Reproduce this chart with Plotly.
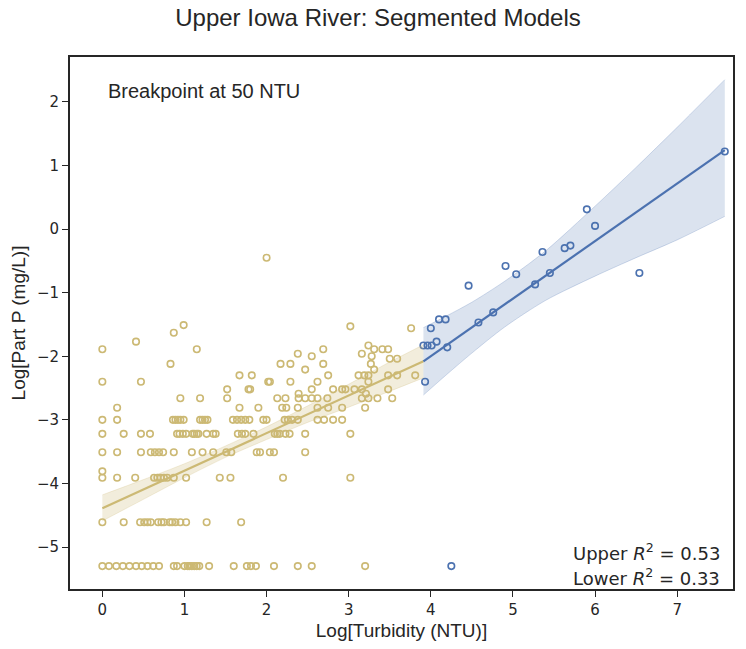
import plotly.graph_objects as go

# ---------------- data ----------------
# Lower segment (turbidity < 50 NTU): points grouped by Log[Part P] level
lower_levels = [-0.45, -1.51, -1.53, -1.56, -1.63, -1.77, -1.83, -1.89, -1.96, -2.00,
                -2.04, -2.12, -2.21, -2.30, -2.40, -2.52, -2.59, -2.66, -2.81, -3.00,
                -3.22, -3.51, -3.81, -3.91, -4.61, -5.30]
lower_x_by_level = [
    [2.00],
    [0.99],
    [3.02],
    [3.76],
    [0.87],
    [0.41],
    [3.24],
    [0.00, 1.15, 2.69, 3.31, 3.41, 3.48],
    [2.38, 3.16],
    [2.55, 3.28],
    [3.50, 3.59],
    [0.83, 2.17, 2.29, 2.69, 3.27],
    [2.47, 3.31],
    [1.67, 1.82, 2.75, 3.12, 3.19, 3.24, 3.48, 3.59, 3.81],
    [0.00, 0.47, 2.02, 2.04, 2.29, 2.62, 3.24],
    [1.52, 1.78, 1.80, 2.55, 2.81, 2.92, 2.96, 3.07, 3.16, 3.48],
    [2.39, 3.21],
    [0.95, 1.19, 1.52, 2.13, 2.23, 2.39, 2.47, 2.55, 2.62, 2.74, 3.16, 3.24, 3.35, 3.53],
    [0.18, 1.67, 1.90, 2.19, 2.24, 2.38, 2.62, 2.75, 2.92, 3.20],
    [0.00, 0.18, 0.86, 0.89, 0.92, 0.95, 0.99, 1.19, 1.22, 1.25, 1.28, 1.59, 1.64, 1.69,
     1.74, 1.79, 1.96, 2.00, 2.22, 2.26, 2.31, 2.38, 2.62, 2.70, 2.81, 2.92],
    [0.00, 0.26, 0.47, 0.58, 0.91, 0.94, 0.98, 1.02, 1.10, 1.12, 1.15, 1.17, 1.27, 1.35,
     1.38, 1.65, 1.70, 1.74, 1.84, 2.10, 2.13, 2.16, 2.23, 2.28, 2.47, 3.02],
    [0.00, 0.18, 0.47, 0.59, 0.64, 0.69, 0.74, 0.87, 1.09, 1.22, 1.35, 1.51, 1.57, 1.88,
     1.92, 2.04, 2.09, 2.47],
    [0.00],
    [0.00, 0.18, 0.40, 0.63, 0.67, 0.71, 0.75, 0.79, 0.87, 1.02, 1.43, 1.56, 2.20, 3.02],
    [0.00, 0.26, 0.46, 0.51, 0.55, 0.59, 0.68, 0.72, 0.75, 0.82, 0.85, 0.89, 0.95, 1.02,
     1.27, 1.69],
    [0.00, 0.08, 0.17, 0.25, 0.33, 0.41, 0.48, 0.55, 0.62, 0.69, 0.87, 0.91, 1.00, 1.04,
     1.06, 1.09, 1.12, 1.15, 1.18, 1.30, 1.60, 1.76, 1.81, 1.87, 2.09, 2.38, 2.55, 3.20],
]

# Upper segment (turbidity >= 50 NTU)
upper_x = [3.91, 3.96, 4.01, 4.07, 4.00, 4.10, 4.18, 4.20, 3.93, 4.25, 4.46, 4.58,
           4.76, 4.91, 5.04, 5.27, 5.36, 5.45, 5.63, 5.70, 5.90, 6.00, 6.54, 7.58]
upper_y = [-1.83, -1.83, -1.83, -1.77, -1.56, -1.42, -1.42, -1.86, -2.40, -5.30, -0.89, -1.47,
           -1.31, -0.58, -0.71, -0.87, -0.36, -0.69, -0.30, -0.26, 0.31, 0.05, -0.69, 1.22]

# Fitted segments (end points)
lower_fit_x = [0.0, 3.91]
lower_fit_y = [-4.39, -2.08]
upper_fit_x = [3.91, 7.58]
upper_fit_y = [-2.08, 1.24]

# Confidence bands (edges)
lower_band_x = [0.0, 0.5, 1.0, 1.5, 2.0, 2.5, 3.0, 3.5, 3.91]
lower_band_hi = [-4.18, -3.94, -3.69, -3.41, -3.11, -2.78, -2.44, -2.09, -1.82]
lower_band_lo = [-4.59, -4.25, -3.91, -3.59, -3.31, -3.04, -2.80, -2.55, -2.34]
upper_band_x = [3.91, 4.2, 4.5, 4.9, 5.4, 6.0, 6.5, 7.0, 7.58]
upper_band_hi = [-1.55, -1.36, -1.15, -0.82, -0.34, 0.36, 0.97, 1.60, 2.35]
upper_band_lo = [-2.61, -2.28, -1.95, -1.54, -1.12, -0.74, -0.45, -0.17, 0.20]

x_ticks = [0, 1, 2, 3, 4, 5, 6, 7]
y_ticks = [-5, -4, -3, -2, -1, 0, 1, 2]

title_text = "Upper Iowa River: Segmented Models"
x_label = "Log[Turbidity (NTU)]"
y_label = "Log[Part P (mg/L)]"
note_text = "Breakpoint at 50 NTU"
r2_upper = "0.53"
r2_lower = "0.33"

# ---------------- styling ----------------
GOLD = "#CCB974"
BLUE = "#4C72B0"
GOLD_FILL = "rgba(204,185,116,0.25)"
BLUE_FILL = "rgba(76,114,176,0.20)"
INK = "#262626"
SANS = "Liberation Sans, Arial, sans-serif"
DEJAVU = "DejaVu Sans, sans-serif"

lower_x = [x for xs in lower_x_by_level for x in xs]
lower_y = [lvl for lvl, xs in zip(lower_levels, lower_x_by_level) for _ in xs]

fig = go.Figure()


def band(xs, hi, lo, fill, edge):
    fig.add_trace(go.Scatter(
        x=xs, y=lo, mode="lines",
        line=dict(color=edge, width=0.8, shape="spline", smoothing=0.8),
        hoverinfo="skip", showlegend=False))
    fig.add_trace(go.Scatter(
        x=xs, y=hi, mode="lines", fill="tonexty", fillcolor=fill,
        line=dict(color=edge, width=0.8, shape="spline", smoothing=0.8),
        hoverinfo="skip", showlegend=False))


fig.add_trace(go.Scatter(x=lower_x, y=lower_y, mode="markers",
                         marker=dict(symbol="circle-open", size=6.5, color=GOLD,
                                     line=dict(width=1.6, color=GOLD)),
                         showlegend=False))
fig.add_trace(go.Scatter(x=upper_x, y=upper_y, mode="markers",
                         marker=dict(symbol="circle-open", size=6.5, color=BLUE,
                                     line=dict(width=1.6, color=BLUE)),
                         showlegend=False))

band(lower_band_x, lower_band_hi, lower_band_lo, GOLD_FILL, "rgba(204,185,116,0.3)")
band(upper_band_x, upper_band_hi, upper_band_lo, BLUE_FILL, "rgba(76,114,176,0.3)")

fig.add_trace(go.Scatter(x=lower_fit_x, y=lower_fit_y, mode="lines",
                         line=dict(color=GOLD, width=2.2), showlegend=False))
fig.add_trace(go.Scatter(x=upper_fit_x, y=upper_fit_y, mode="lines",
                         line=dict(color=BLUE, width=2.2), showlegend=False))

axis_common = dict(showgrid=False, zeroline=False, showline=True, mirror=True,
                   linecolor=INK, linewidth=1.7, ticks="outside", ticklen=6,
                   tickwidth=1.3, tickcolor=INK,
                   tickfont=dict(family=DEJAVU, size=15, color=INK))

fig.update_layout(
    width=746, height=649,
    margin=dict(l=70, r=11, t=57, b=59),
    plot_bgcolor="white", paper_bgcolor="white",
    title=dict(text=title_text, x=378 / 746, xref="container", xanchor="center",
               y=1 - 18 / 649, yref="container", yanchor="middle",
               font=dict(family=SANS, size=24, color=INK)),
    xaxis=dict(range=[-0.394, 7.68], tickvals=x_ticks,
               title=dict(text=x_label, font=dict(family=SANS, size=19, color=INK), standoff=6),
               **axis_common),
    yaxis=dict(range=[-5.66, 2.706], tickvals=y_ticks,
               title=dict(text=y_label, font=dict(family=SANS, size=19, color=INK), standoff=6),
               **axis_common),
    annotations=[
        dict(text=note_text, xref="paper", yref="paper", x=0.054, y=0.936,
             xanchor="left", yanchor="middle", showarrow=False,
             font=dict(family=SANS, size=20, color=INK)),
        dict(text="Upper <i>R</i><sup>2</sup> = " + r2_upper, xref="paper", yref="paper",
             x=0.984, y=0.069, xanchor="right", yanchor="middle", showarrow=False,
             font=dict(family=DEJAVU, size=18, color=INK)),
        dict(text="Lower <i>R</i><sup>2</sup> = " + r2_lower, xref="paper", yref="paper",
             x=0.984, y=0.022, xanchor="right", yanchor="middle", showarrow=False,
             font=dict(family=DEJAVU, size=18, color=INK)),
    ],
)

fig.write_html("out.html", config={"displayModeBar": False},
               post_script="document.body.style.margin='0';")
